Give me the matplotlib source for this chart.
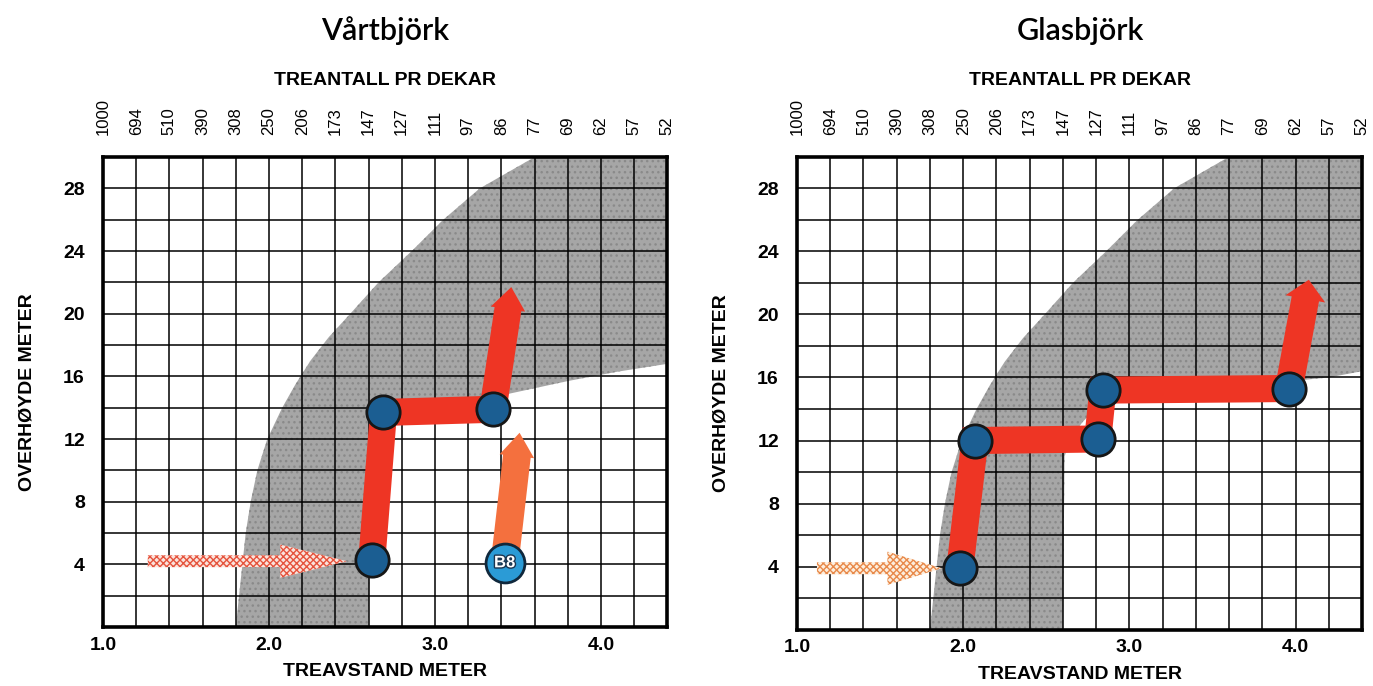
import numpy as np
import matplotlib.pyplot as plt
from matplotlib.patches import Polygon, FancyArrowPatch, ArrowStyle
import matplotlib.patheffects as pe

plt.rcParams['font.family'] = ['Liberation Sans', 'DejaVu Sans']

# --- axis values ---
spacing_grid = [1.0, 1.2, 1.4, 1.6, 1.8, 2.0, 2.2, 2.4, 2.6, 2.8,
                3.0, 3.2, 3.4, 3.6, 3.8, 4.0, 4.2, 4.4]
trees_per_dekar = ['1000', '694', '510', '390', '308', '250', '206', '173', '147',
                   '127', '111', '97', '86', '77', '69', '62', '57', '52']
spacing_labels = [1.0, 2.0, 3.0, 4.0]
height_labels = [4, 8, 12, 16, 20, 24, 28]
height_grid = [0, 2, 4, 6, 8, 10, 12, 14, 16, 18, 20, 22, 24, 26, 28, 30]

# --- grey zone (upper-left boundary is the same in both charts) ---
zone_upper_x = [1.80, 1.81, 1.82, 1.84, 1.86, 1.89, 1.93, 1.99, 2.08, 2.16,
                2.25, 2.36, 2.49, 2.66, 2.86, 3.05, 3.27, 3.60]
zone_upper_y = [0, 1, 2, 4, 6, 8, 10, 12, 14, 15.5,
                17, 18.5, 20, 22, 24, 26, 28, 30]
vart_zone_lower_x = [4.40, 4.10, 3.80, 3.45, 3.20, 3.00, 2.85, 2.75, 2.67, 2.62, 2.60]
vart_zone_lower_y = [16.8, 16.3, 15.7, 14.9, 14.5, 14.2, 13.9, 13.5, 12.9, 12.0, 0]
glas_zone_lower_x = [4.40, 4.20, 3.80, 3.40, 3.10, 2.90, 2.80, 2.72, 2.65, 2.61, 2.60]
glas_zone_lower_y = [16.4, 16.0, 15.6, 15.3, 15.0, 14.7, 14.0, 13.2, 12.2, 11.0, 0]

# --- Vårtbjörk treatment path ---
vart_path_x = [2.62, 2.69, 3.35]
vart_path_y = [4.3, 13.7, 13.9]
vart_tip = (3.46, 21.7)
vart_entry_x = [1.27, 2.47]
vart_entry_y = [4.2, 4.2]
b8_pos = (3.42, 4.1)
b8_tip = (3.51, 12.4)

# --- Glasbjörk treatment path ---
glas_path_x = [1.98, 2.07, 2.81, 2.84, 3.96]
glas_path_y = [3.9, 12.0, 12.1, 15.2, 15.3]
glas_tip = (4.08, 22.2)
glas_entry_x = [1.12, 1.87]
glas_entry_y = [3.9, 3.9]

RED = '#ee3524'
BLUE = '#1b5e92'


def draw_panel(ax, lower_x, lower_y):
    ax.set_xlim(1.0, 4.4)
    ax.set_ylim(0, 30)

    zone = np.column_stack([zone_upper_x + [4.4] + lower_x,
                            zone_upper_y + [30] + lower_y])
    ax.add_patch(Polygon(zone, closed=True, facecolor='#a6a6a6',
                         edgecolor='#8a8a8a', hatch='...', lw=0, zorder=1))

    ax.set_xticks(spacing_labels, labels=[f'{v:.1f}' for v in spacing_labels])
    ax.set_xticks(spacing_grid, minor=True)
    ax.set_yticks(height_labels)
    ax.set_yticks(height_grid, minor=True)
    ax.set_axisbelow(False)
    ax.grid(which='both', color='black', lw=1.1)
    ax.tick_params(which='both', length=0, labelsize=14)
    ax.tick_params(axis='x', pad=7)
    ax.tick_params(axis='y', pad=13)
    for lab in ax.get_xticklabels() + ax.get_yticklabels():
        lab.set_fontweight('bold')
    for sp in ax.spines.values():
        sp.set_linewidth(2.6)

    ax.set_xlabel('TREAVSTAND METER', fontsize=14, fontweight='bold', labelpad=7)
    ax.set_ylabel('OVERHØYDE METER', fontsize=14, fontweight='bold', labelpad=20)

    top = ax.secondary_xaxis('top')
    top.set_xticks(spacing_grid, labels=trees_per_dekar, rotation=90, fontsize=12)
    top.tick_params(length=0, pad=16)
    top.spines['top'].set_visible(False)
    top.set_xlabel('TREANTALL PR DEKAR', fontsize=14, fontweight='bold', labelpad=9)


def entry_arrow(ax, xs, ys, head_len, edge, face):
    a = FancyArrowPatch((xs[0], ys[0]), (xs[1], ys[1]),
                        arrowstyle=ArrowStyle.Simple(head_length=head_len, head_width=24,
                                                     tail_width=8.5),
                        mutation_scale=1, shrinkA=0, shrinkB=0,
                        facecolor=face, edgecolor=edge, hatch='xxxxx', lw=0, zorder=4)
    ax.add_patch(a)


def red_arrow(ax, start, tip, color, head_len, head_w, tail_w):
    a = FancyArrowPatch(start, tip,
                        arrowstyle=ArrowStyle.Simple(head_length=head_len, head_width=head_w,
                                                     tail_width=tail_w),
                        mutation_scale=1, shrinkA=0, shrinkB=0,
                        color=color, lw=0, zorder=4)
    ax.add_patch(a)


fig = plt.figure(figsize=(13.73, 6.86), dpi=100)
ax1 = fig.add_axes([0.075, 0.086, 0.411, 0.685])
ax2 = fig.add_axes([0.5805, 0.082, 0.4115, 0.6895])

title_kw = dict(fontsize=22, family=['Lato', 'DejaVu Sans'], fontweight='semibold',
                ha='center', va='center')
fig.text(0.2805, 0.955, 'Vårtbjörk', **title_kw)
fig.text(0.7866, 0.955, 'Glasbjörk', **title_kw)

# Vårtbjörk
draw_panel(ax1, vart_zone_lower_x, vart_zone_lower_y)
entry_arrow(ax1, vart_entry_x, vart_entry_y, 48, '#e5533d', '#fbe3dc')
ax1.plot(vart_path_x, vart_path_y, color=RED, lw=19.5, solid_joinstyle='miter',
         solid_capstyle='butt', zorder=4)
red_arrow(ax1, (vart_path_x[-1], vart_path_y[-1]), vart_tip, RED, 16, 25, 19.5)
red_arrow(ax1, b8_pos, b8_tip, '#f4703e', 17, 25, 20)
ax1.plot(vart_path_x, vart_path_y, 'o', ms=24, mfc=BLUE, mec='#161616', mew=2, zorder=5)
ax1.plot([b8_pos[0]], [b8_pos[1]], 'o', ms=28, mfc='#2b9bd6', mec='#10283c', mew=2, zorder=5)
ax1.text(b8_pos[0], b8_pos[1], 'B8', color='white', fontsize=12, fontweight='bold',
         ha='center', va='center', zorder=6,
         path_effects=[pe.withStroke(linewidth=2, foreground='#1a3550')])

# Glasbjörk
draw_panel(ax2, glas_zone_lower_x, glas_zone_lower_y)
entry_arrow(ax2, glas_entry_x, glas_entry_y, 39, '#e8894a', '#fdeedd')
ax2.plot(glas_path_x, glas_path_y, color=RED, lw=19.5, solid_joinstyle='miter',
         solid_capstyle='butt', zorder=4)
red_arrow(ax2, (glas_path_x[-1], glas_path_y[-1]), glas_tip, RED, 14, 29, 20)
ax2.plot(glas_path_x, glas_path_y, 'o', ms=24, mfc=BLUE, mec='#161616', mew=2, zorder=5)

fig.savefig('out.png', dpi=100)
